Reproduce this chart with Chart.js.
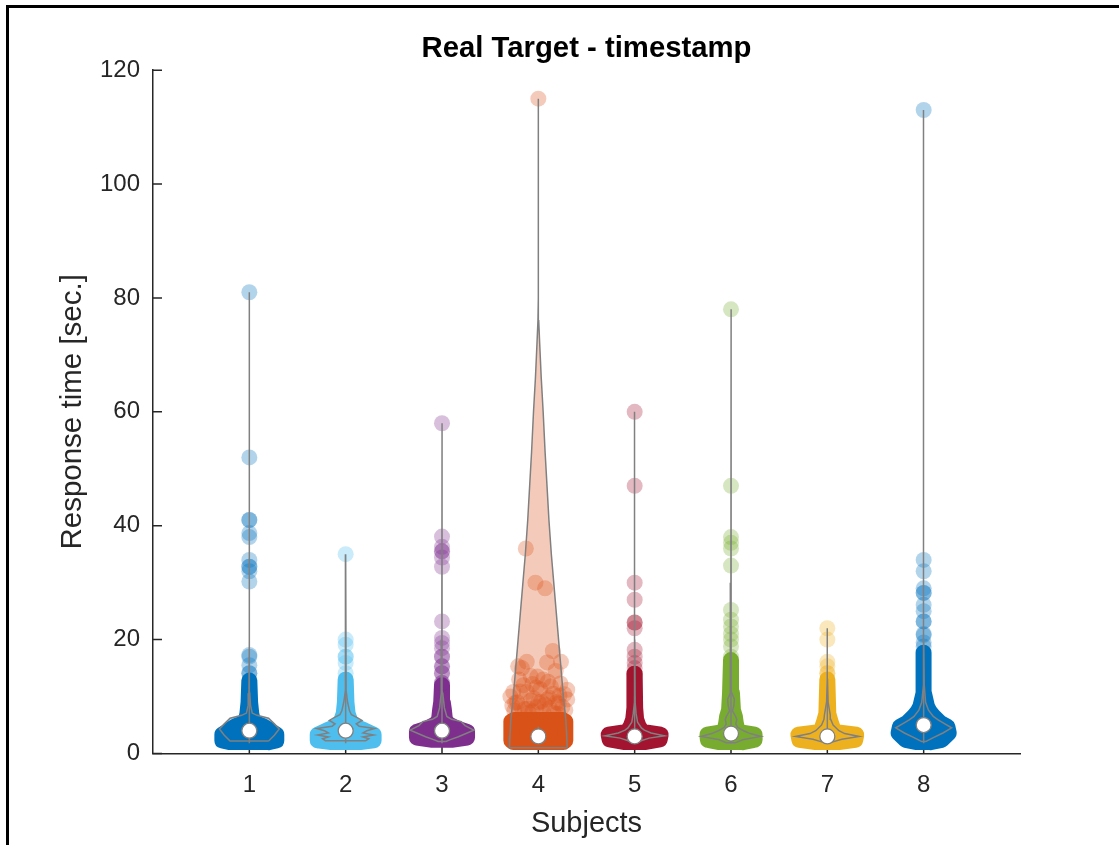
<!DOCTYPE html>
<html>
<head>
<meta charset="utf-8">
<script src="https://cdn.jsdelivr.net/npm/chart.js@4.4.1/dist/chart.umd.min.js"></script>
<style>
html, body { margin: 0; padding: 0; background: #fff; overflow: hidden; }
#wrap { position: relative; width: 1119px; height: 845px; }
#frame { position: absolute; left: 6px; top: 5px; width: 1200px; height: 1000px; border-left: 3px solid #000; border-top: 3px solid #000; pointer-events: none; }
canvas { position: absolute; left: 0; top: 0; }
</style>
</head>
<body>
<div id="wrap"><canvas id="chart" width="1119" height="845"></canvas><div id="frame"></div></div>
<script>
const subjects = [1, 2, 3, 4, 5, 6, 7, 8];
const medians = [4, 4, 4, 3, 3, 3.5, 3, 5];
const whiskerLow = [1.8, 1.8, 1.8, 3.0, 1.8, 1.8, 1.8, 1.8];
const whiskerHigh = [11, 11, 11, 4.7, 10, 11, 10, 12];

// violin (KDE) outline: [value, half width]
const violinShape = [
  [[2.2,0.20],[3.2,0.26],[4.3,0.31],[5.2,0.26],[6.2,0.20],[6.7,0.08],[7.1,0.03],[8.5,0.012],[10.6,0.004],[20,0.001],[81,0]],
  [[2.25,0.21],[2.6,0.24],[2.9,0.18],[3.25,0.29],[3.6,0.18],[4.0,0.22],[4.4,0.30],[4.8,0.14],[5.2,0.11],[5.8,0.17],[6.3,0.12],[6.8,0.06],[7.5,0.04],[9,0.02],[11,0.005],[35,0]],
  [[2.1,0.04],[2.4,0.08],[2.95,0.17],[4.1,0.33],[4.9,0.24],[5.6,0.20],[6.0,0.10],[6.5,0.05],[8,0.025],[10.6,0.008],[20,0.002],[58,0]],
  [[1.0,0.30],[3,0.295],[6,0.285],[10,0.26],[15,0.235],[20,0.21],[25,0.185],[30,0.16],[35,0.135],[41,0.11],[47,0.09],[53,0.07],[60,0.05],[66,0.03],[72,0.014],[76,0.004],[80,0.001],[115,0]],
  [[2.0,0.04],[2.2,0.06],[2.7,0.15],[3.1,0.31],[3.6,0.17],[4.1,0.10],[4.5,0.07],[5.5,0.03],[7,0.015],[9,0.005],[20,0.001],[60,0]],
  [[1.9,0.05],[2.4,0.12],[3.0,0.31],[3.5,0.2],[4.0,0.13],[4.6,0.07],[5.2,0.05],[6.0,0.06],[6.6,0.045],[7.5,0.015],[8.5,0.03],[9.5,0.035],[10.6,0.01],[12,0.004],[30,0.001],[78,0]],
  [[2.0,0.05],[2.5,0.15],[3.0,0.33],[3.5,0.18],[4.0,0.12],[5.0,0.06],[6.0,0.035],[6.8,0.03],[7.8,0.02],[9,0.008],[13,0.002],[22,0]],
  [[2.1,0.02],[2.8,0.1],[3.6,0.2],[4.5,0.29],[5.2,0.22],[5.9,0.15],[6.5,0.1],[7.6,0.05],[9,0.02],[12,0.006],[20,0.001],[113,0]]
];

// dense cloud of overlapping samples: [value, half width of point centres]
const denseBody = [
  [[2.0,0.2],[2.3,0.28],[3.3,0.28],[4.0,0.22],[4.8,0.14],[5.5,0.04],[7,0.02],[9,0.008],[12.8,0]],
  [[2.0,0.15],[2.3,0.29],[3.3,0.29],[4.1,0.19],[4.8,0.09],[5.5,0.05],[7,0.02],[9,0.008],[13,0]],
  [[2.4,0.1],[2.8,0.26],[3.8,0.26],[4.4,0.15],[5.2,0.06],[6,0.03],[7.6,0.02],[9,0.008],[12,0]],
  [[2.0,0.26],[2.3,0.28],[5.6,0.28],[5.9,0.25],[5.9,0]],
  [[2.0,0.1],[2.5,0.26],[3.3,0.27],[3.8,0.08],[4.8,0.04],[6,0.015],[8,0.005],[14,0]],
  [[2.0,0.12],[2.4,0.24],[3.3,0.245],[3.8,0.07],[5.3,0.05],[6.5,0.04],[7.6,0.02],[10.6,0.01],[16.4,0]],
  [[2.0,0.12],[2.4,0.29],[3.3,0.30],[3.8,0.07],[5.5,0.035],[7,0.01],[13,0]],
  [[2.0,0.07],[2.4,0.187],[3.6,0.26],[4.7,0.246],[5.4,0.17],[6.5,0.104],[7.4,0.06],[8.2,0.035],[10.6,0.003],[17.7,0]]
];

// single samples standing out of the cloud
const outlierValues = [
  [81, 52, 41, 41, 38.7, 38, 34, 32.8, 32.8, 32, 30.2, 17.3, 17, 15.5, 14.1, 14.1],
  [35, 20, 19.1, 17, 17, 15.9, 14.1],
  [58, 38.1, 36.3, 35.5, 35.5, 34.4, 32.8, 23.2, 20.3, 19.4, 18.5, 17, 17, 15.3, 15.3, 14.1, 14.1, 12.4, 12.4],
  [115, 36, 30, 29, 18, 16, 16.1, 16.1, 15.3, 15.0, 13.5, 13.0, 13.6, 12.3, 11.2, 10.8, 12.0, 10.5, 9.7, 9.5, 9.0, 9.5, 10.8, 11.3, 9.0, 10, 8.2, 8.3, 8.0, 8.1, 7.3, 7.2, 7.0, 7.5, 7.6, 9.0, 12.2, 12.6, 14.5, 13, 11.8, 8.9, 10.2,
   7.8, 8.6, 9.3, 10.4, 11.6, 7.1, 8.4, 9.8, 7.4, 8.8, 10.9, 7.9, 9.1],
  [60, 47, 30, 27, 23, 23, 22, 18.2, 17, 15.9, 15, 14],
  [78, 47, 38, 37, 36, 33, 25.2, 23.5, 22.3, 21, 20, 18.8, 17],
  [22, 20, 16.1, 15.3, 14.1, 14.1],
  [113, 34, 32, 29, 28.2, 28.2, 26.1, 25, 23.2, 23.2, 21, 20.8, 19.5, 18.8]
];
// horizontal jitter of subject 4 samples (same order as outlierValues[3])
const subject4Jitter = [0, -0.13, -0.03, 0.07, 0.15, 0.09, 0.235, -0.12, -0.21, -0.17, -0.01, 0.05, -0.08, 0.23, 0.30, -0.26, -0.155, 0.155, -0.05, 0.30, -0.22, 0.09, -0.12, 0.02, 0.19, -0.29, 0.25, -0.18, 0.12, -0.02, 0.05, -0.1, 0.2, -0.25, 0.28, 0.0, -0.06, 0.1, 0.18, -0.2, 0.13, -0.24, 0.22,
  -0.14, 0.07, -0.08, 0.27, -0.02, 0.16, -0.27, 0.11, -0.06, 0.21, -0.19, -0.11, 0.03];

const palette = ['#0072BD', '#4DBEEE', '#7E2F8E', '#D95319', '#A2142F', '#77AC30', '#EDB120', '#0072BD'];
const gray = '#808080';

function rgba(hex, a) {
  const n = parseInt(hex.slice(1), 16);
  return 'rgba(' + (n >> 16) + ',' + ((n >> 8) & 255) + ',' + (n & 255) + ',' + a + ')';
}
function polygon(x, profile) {
  const right = profile.map(([v, w]) => ({x: x + w, y: v}));
  const left = profile.slice().reverse().map(([v, w]) => ({x: x - w, y: v}));
  const pts = right.concat(left);
  pts.push(pts[0]);
  return pts;
}

const datasets = [];
subjects.forEach((s, i) => {
  const col = palette[i];
  datasets.push({
    data: polygon(s, violinShape[i]), order: 60, fill: 'shape',
    backgroundColor: rgba(col, 0.3), borderColor: 'transparent', borderWidth: 0, pointRadius: 0
  });
  datasets.push({
    data: polygon(s, denseBody[i]), order: 50, fill: 'shape',
    backgroundColor: col, borderColor: col, borderWidth: 16,
    borderJoinStyle: 'round', borderCapStyle: 'round', pointRadius: 0
  });
  datasets.push({
    data: outlierValues[i].map((v, k) => ({x: s + (i === 3 ? subject4Jitter[k] : 0), y: v})),
    order: 40, showLine: false, pointRadius: 8, pointBorderWidth: 0,
    pointBackgroundColor: rgba(col, 0.3), pointBorderColor: 'transparent'
  });
  datasets.push({
    data: polygon(s, violinShape[i]), order: 30, fill: false,
    borderColor: gray, borderWidth: 1.5, pointRadius: 0
  });
  datasets.push({
    data: [{x: s, y: whiskerLow[i]}, {x: s, y: whiskerHigh[i]}], order: 20, fill: false,
    borderColor: gray, borderWidth: 1.5, pointRadius: 0
  });
  datasets.push({
    data: [{x: s, y: medians[i]}], order: 10, showLine: false,
    pointRadius: 7.5, pointBackgroundColor: '#fff', pointBorderColor: gray, pointBorderWidth: 1.3
  });
});

const innerTicks = {
  id: 'innerTicks',
  beforeDatasetsDraw(chart) {
    const {ctx, scales: {x, y}, chartArea} = chart;
    ctx.save();
    ctx.strokeStyle = '#262626';
    ctx.lineWidth = 1.5;
    ctx.beginPath();
    y.ticks.forEach(t => {
      const py = y.getPixelForValue(t.value);
      ctx.moveTo(chartArea.left, py);
      ctx.lineTo(chartArea.left + 9, py);
    });
    x.ticks.forEach(t => {
      const px = x.getPixelForValue(t.value);
      ctx.moveTo(px, chartArea.bottom);
      ctx.lineTo(px, chartArea.bottom - 9);
    });
    ctx.stroke();
    ctx.restore();
  }
};

Chart.defaults.font.family = 'Arial, "Liberation Sans", Helvetica, sans-serif';
Chart.defaults.color = '#262626';

new Chart(document.getElementById('chart'), {
  type: 'line',
  data: {datasets},
  options: {
    responsive: false,
    animation: false,
    layout: {padding: {left: 0, right: 99, top: 0, bottom: 0}},
    plugins: {
      legend: {display: false},
      tooltip: {enabled: false},
      title: {
        display: true, text: 'Real Target - timestamp', color: '#000', fullSize: false,
        font: {size: 29.3, weight: 'bold'}, padding: {top: 31.6, bottom: 3.4}
      }
    },
    elements: {line: {tension: 0}, point: {radius: 0}},
    scales: {
      x: {
        type: 'linear', min: 0, max: 9,
        grid: {display: false, drawTicks: false},
        border: {display: true, color: '#262626', width: 1.5},
        afterBuildTicks: s => { s.ticks = subjects.map(v => ({value: v})); },
        afterFit: s => { s.height = 91.5; },
        ticks: {color: '#262626', font: {size: 24}, padding: 17, maxRotation: 0, autoSkip: false},
        title: {display: true, text: 'Subjects', color: '#262626', font: {size: 29}, padding: {top: 0, bottom: 4}}
      },
      y: {
        min: 0, max: 120,
        grid: {display: false, drawTicks: false},
        border: {display: true, color: '#262626', width: 1.5},
        afterFit: s => { s.width = 153; },
        ticks: {stepSize: 20, color: '#262626', font: {size: 24}, padding: 13},
        title: {display: true, text: 'Response time [sec.]', color: '#262626', font: {size: 29.5}, padding: {top: 55, bottom: 0}}
      }
    }
  },
  plugins: [innerTicks]
});
</script>
</body>
</html>
